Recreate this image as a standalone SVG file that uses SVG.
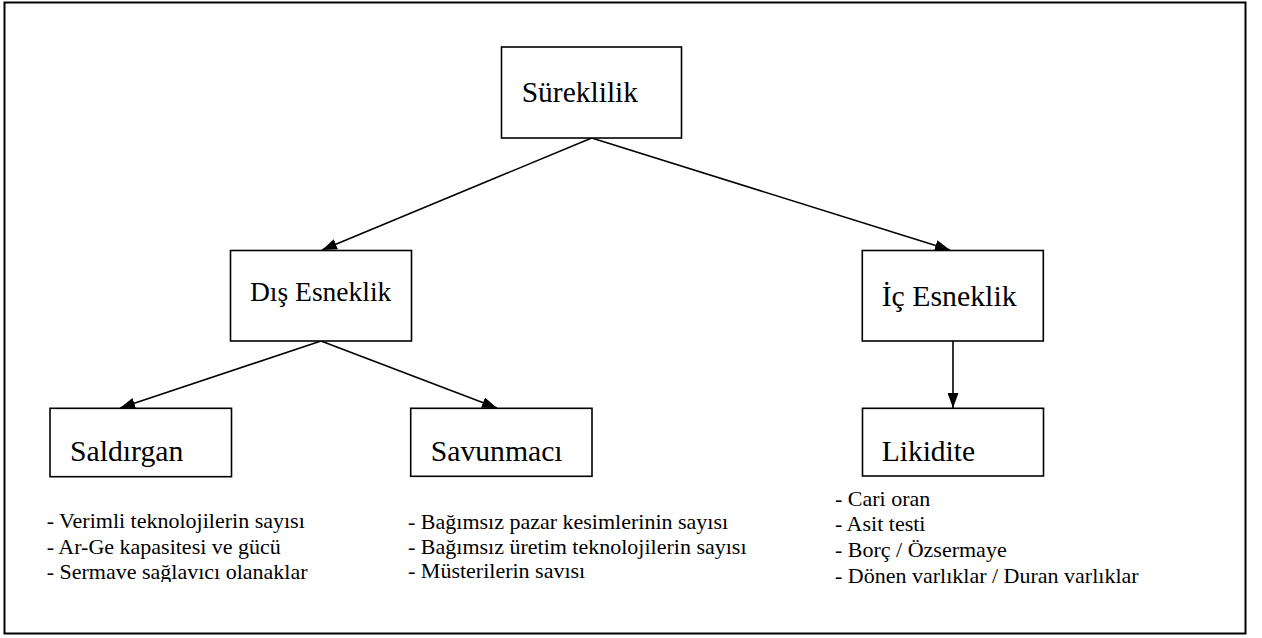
<svg xmlns="http://www.w3.org/2000/svg" width="1262" height="638" viewBox="0 0 1262 638">
<style>
.box{fill:#fff;stroke:#000;stroke-width:1.6}
.lbl{font-family:'Liberation Serif','Times New Roman',serif;fill:#000}
.lst{font-family:'Liberation Serif','Times New Roman',serif;fill:#000;font-size:22px}
.con{stroke:#000;stroke-width:1.6;fill:none;marker-end:url(#arr)}
</style>
<defs>
<marker id="arr" viewBox="0 0 15 11" refX="15" refY="5.5" markerWidth="15" markerHeight="11" markerUnits="userSpaceOnUse" orient="auto">
<path d="M0,0 L15,5.5 L0,11 Z" fill="#000"/>
</marker>
<clipPath id="cut"><rect x="0" y="480" width="1262" height="102"/></clipPath>
</defs>
<rect x="4.5" y="2.5" width="1241" height="631" fill="#fff" stroke="#000" stroke-width="2"/>
<g id="connectors">
<line class="con" x1="591.7" y1="138" x2="322" y2="250"/>
<line class="con" x1="591.7" y1="138" x2="950" y2="250"/>
<line class="con" x1="321" y1="341" x2="120" y2="408"/>
<line class="con" x1="321" y1="341" x2="497" y2="408"/>
<line class="con" x1="953" y1="341" x2="953" y2="408"/>
</g>
<g id="sureklilik">
<rect class="box" x="501.5" y="47" width="180" height="91"/>
<text class="lbl" font-size="29.5" x="521.7" y="101.7">Süreklilik</text>
</g>
<g id="dis-esneklik">
<rect class="box" x="230.5" y="250.5" width="181" height="90.5"/>
<text class="lbl" font-size="27.5" x="250" y="301">Dış Esneklik</text>
</g>
<g id="ic-esneklik">
<rect class="box" x="862.3" y="250.5" width="181" height="90.5"/>
<text class="lbl" font-size="29.8" x="881.7" y="306">İç Esneklik</text>
</g>
<g id="saldirgan">
<rect class="box" x="50" y="408.3" width="181.5" height="68.4"/>
<text class="lbl" font-size="29.7" x="70" y="461">Saldırgan</text>
</g>
<g id="savunmaci">
<rect class="box" x="410.7" y="408.3" width="181.3" height="68"/>
<text class="lbl" font-size="29.7" x="430.7" y="461">Savunmacı</text>
</g>
<g id="likidite">
<rect class="box" x="862.5" y="408.3" width="181" height="67.7"/>
<text class="lbl" font-size="29.5" x="881.7" y="460.7">Likidite</text>
</g>
<g id="saldirgan-list" clip-path="url(#cut)">
<text class="lst" x="46.7" y="528.3">- Verimli teknolojilerin sayısı</text>
<text class="lst" x="46.7" y="554">- Ar-Ge kapasitesi ve gücü</text>
<text class="lst" x="46.7" y="579.3">- Sermave sağlavıcı olanaklar</text>
</g>
<g id="savunmaci-list" clip-path="url(#cut)">
<text class="lst" x="408" y="529">- Bağımsız pazar kesimlerinin sayısı</text>
<text class="lst" x="408" y="554.3">- Bağımsız üretim teknolojilerin sayısı</text>
<text class="lst" x="408" y="578.3">- Müsterilerin savısı</text>
</g>
<g id="likidite-list">
<text class="lst" x="835" y="505.7">- Cari oran</text>
<text class="lst" x="835" y="531">- Asit testi</text>
<text class="lst" x="835" y="556.7">- Borç / Özsermaye</text>
<text class="lst" x="835" y="582.7">- Dönen varlıklar / Duran varlıklar</text>
</g>
</svg>
